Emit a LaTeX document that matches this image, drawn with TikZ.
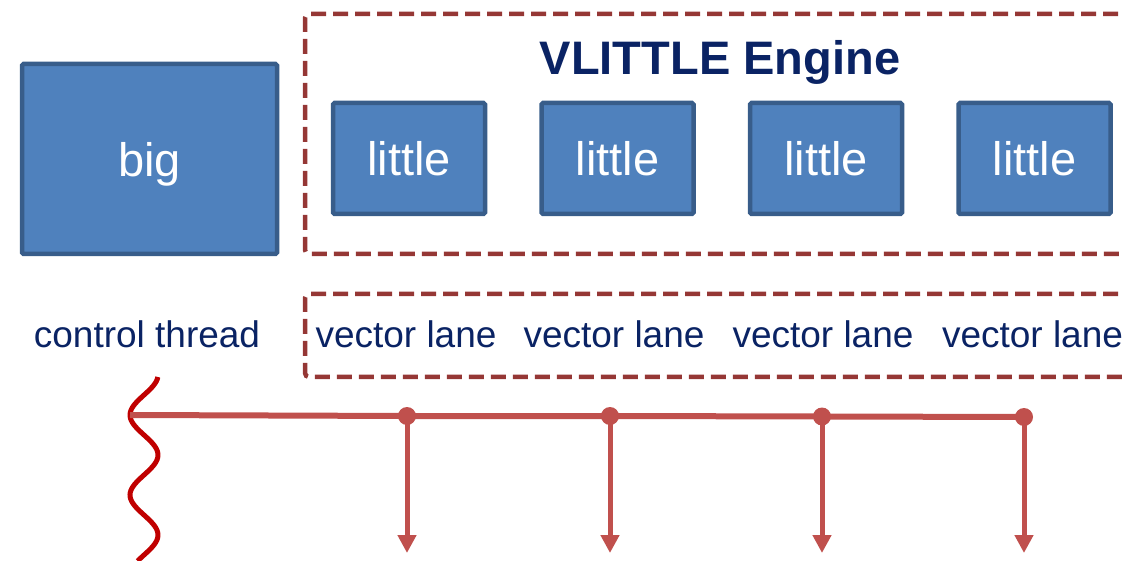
\documentclass[tikz,border=0pt]{standalone}
\usepackage{fontspec}
\setmainfont{Liberation Sans}
\usetikzlibrary{arrows.meta}

\definecolor{corefill}{HTML}{4F81BD}
\definecolor{coreedge}{HTML}{385D8A}
\definecolor{framered}{RGB}{149,55,53}
\definecolor{busred}{HTML}{C0504D}
\definecolor{wavered}{HTML}{C00000}
\definecolor{navytext}{RGB}{10,35,100}

\tikzset{
  corebox/.style={draw=coreedge, fill=corefill, line width=4.5pt, rounded corners=1.5pt,
    text=white, inner sep=0pt, text depth=0pt, font=\fontsize{47}{56}\selectfont},
  bigcore/.style={corebox, minimum width=255pt, minimum height=190pt},
  littlecore/.style={corebox, minimum width=152pt, minimum height=111pt},
  enginetitle/.style={text=navytext, inner sep=0pt, text depth=0pt,
    font=\fontsize{47}{56}\selectfont\bfseries},
  lanelabel/.style={text=navytext, inner sep=0pt, anchor=base,
    font=\fontsize{37}{44}\selectfont},
  frame/.style={draw=framered, line width=4.5pt, dash pattern=on 15pt off 7pt,
    rounded corners=4pt},
  bus/.style={draw=busred, line width=6pt},
  busdot/.style={fill=busred},
  busarrow/.style={draw=busred, line width=5pt, -{Triangle[length=18pt,width=18pt]}},
  thread/.style={draw=wavered, line width=5pt},
}

\begin{document}
\begin{tikzpicture}[x=1pt, y=-1pt]
\useasboundingbox (0,0) rectangle (1125,561);
\clip (0,0) rectangle (1125,561);

% engine frames, open on the right
\draw[frame] (1140,14) -- (305,14) -- (305,254) -- (1140,254);
\draw[frame] (1140,294) -- (305,294) -- (305,377) -- (1140,377);

% cores
\node[bigcore] (big) at (149.5,159) {big};
\node[littlecore] (l1) at (409,158.5) {little};
\node[littlecore] (l2) at (617.5,158.5) {little};
\node[littlecore] (l3) at (826,158.5) {little};
\node[littlecore] (l4) at (1034.5,158.5) {little};
\node[enginetitle] (title) at (720,57) {VLITTLE Engine};

% thread labels
\node[lanelabel] (ct) at (147,348) {control thread};
\node[lanelabel] (v1) at (406,348) {vector lane};
\node[lanelabel] (v2) at (614,348) {vector lane};
\node[lanelabel] (v3) at (823,348) {vector lane};
\node[lanelabel] (v4) at (1032.5,348) {vector lane};

% control thread
\draw[thread] plot[domain=377:561, samples=90, variable=\t] ({144+14*sin((\t-435)*4.5)}, \t);

% fork points and lane ends
\coordinate (start) at (130,415);
\coordinate (d1) at (407,416);
\coordinate (d2) at (610,416);
\coordinate (d3) at (822,416.5);
\coordinate (d4) at (1024,417);
\coordinate (e1) at (407,553);
\coordinate (e2) at (610,553);
\coordinate (e3) at (822,553);
\coordinate (e4) at (1024,553);

\draw[bus] (start) -- (d1) -- (d2) -- (d3) -- (d4);
\foreach \i in {1,...,4} {
  \draw[busarrow] (d\i) -- (e\i);
  \fill[busdot] (d\i) circle (9pt);
}
\end{tikzpicture}
\end{document}
